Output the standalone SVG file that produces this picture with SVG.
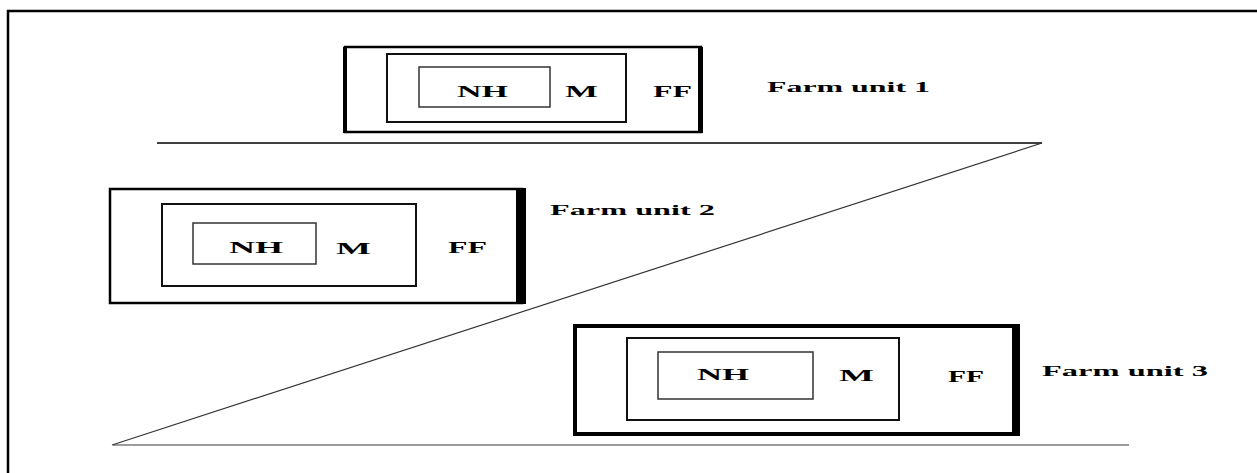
<svg xmlns="http://www.w3.org/2000/svg" width="1257" height="473" viewBox="0 0 1257 473">
<style>
text{font-family:"Liberation Serif","Times New Roman",serif;font-weight:bold;fill:#000}
.lbl{font-size:16px}
.unit{font-size:15px}
.outer{fill:none;stroke:#000;stroke-width:2.5}
.inner{fill:none;stroke:#111;stroke-width:2}
.nh{fill:none;stroke:#333;stroke-width:1.5}
</style>
<rect width="1257" height="473" fill="#fff"/>
<g id="frame">
<path d="M8 473 V11 H1257" fill="none" stroke="#000" stroke-width="2.5"/>
</g>
<g id="connectors">
<line x1="157" y1="143" x2="1042" y2="143" stroke="#000" stroke-width="1.6"/>
<line x1="113" y1="445" x2="1129" y2="445" stroke="#7a7a7a" stroke-width="1.5"/>
<line x1="112" y1="445" x2="1042" y2="143" stroke="#333" stroke-width="1.2"/>
</g>
<g id="unit1">
<rect class="outer" x="345" y="47" width="356" height="85"/>
<rect x="343" y="47" width="4" height="86" fill="#000"/>
<rect x="698" y="47" width="5" height="86" fill="#000"/>
<rect class="inner" x="387" y="54" width="239" height="68"/>
<rect class="nh" x="419" y="67" width="131" height="40"/>
<text class="lbl" x="457" y="97" textLength="51" lengthAdjust="spacingAndGlyphs">NH</text>
<text class="lbl" x="565" y="97" textLength="33" lengthAdjust="spacingAndGlyphs">M</text>
<text class="lbl" x="653" y="97" textLength="39" lengthAdjust="spacingAndGlyphs">FF</text>
<text class="unit" x="767" y="92" textLength="163" lengthAdjust="spacingAndGlyphs">Farm unit 1</text>
</g>
<g id="unit2">
<rect class="outer" x="110" y="189" width="412" height="114"/>
<rect x="516" y="188" width="10" height="116" fill="#000"/>
<rect class="inner" x="162" y="204" width="254" height="82"/>
<rect class="nh" x="193" y="223" width="123" height="41"/>
<text class="lbl" x="229" y="253" textLength="54" lengthAdjust="spacingAndGlyphs">NH</text>
<text class="lbl" x="336" y="254" textLength="35" lengthAdjust="spacingAndGlyphs">M</text>
<text class="lbl" x="448" y="253" textLength="39" lengthAdjust="spacingAndGlyphs">FF</text>
<text class="unit" x="550" y="215" textLength="165" lengthAdjust="spacingAndGlyphs">Farm unit 2</text>
</g>
<g id="unit3">
<rect x="575" y="326" width="441" height="108" fill="none" stroke="#000" stroke-width="4"/>
<rect x="573" y="380" width="4" height="56" fill="#000"/>
<rect x="1012" y="324" width="8" height="112" fill="#000"/>
<rect class="inner" x="627" y="338" width="272" height="82" stroke-width="2.5"/>
<rect class="nh" x="658" y="352" width="155" height="47"/>
<text class="lbl" x="697" y="380" textLength="52" lengthAdjust="spacingAndGlyphs">NH</text>
<text class="lbl" x="839" y="381" textLength="35" lengthAdjust="spacingAndGlyphs">M</text>
<text class="lbl" x="948" y="382" textLength="36" lengthAdjust="spacingAndGlyphs">FF</text>
<text class="unit" x="1042" y="376" textLength="166" lengthAdjust="spacingAndGlyphs">Farm unit 3</text>
</g>
</svg>
